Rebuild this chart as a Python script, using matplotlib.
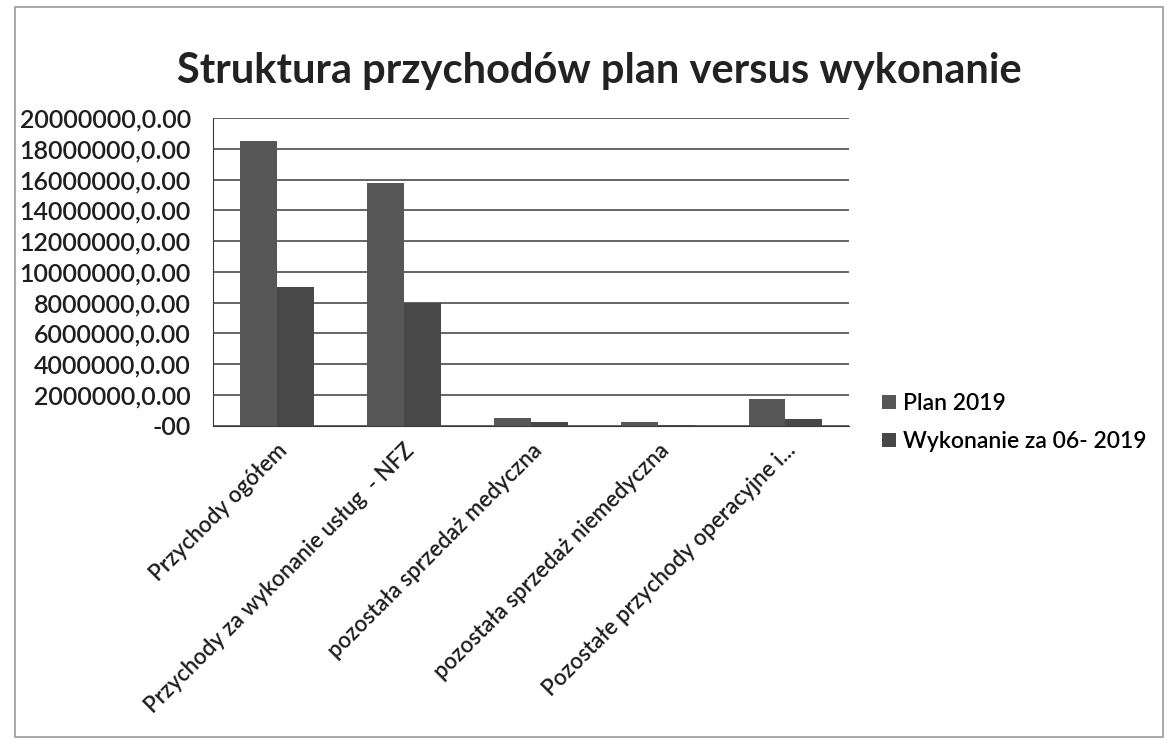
import matplotlib.pyplot as plt
import numpy as np
from matplotlib.patches import Rectangle

categories = [
    'Przychody ogółem',
    'Przychody za wykonanie usług  - NFZ',
    'pozostała sprzedaż medyczna',
    'pozostała sprzedaż niemedyczna',
    'Pozostałe przychody operacyjne i...',
]
plan_2019 = [18550000, 15800000, 480000, 200000, 1750000]
wykonanie_06_2019 = [9000000, 8000000, 260000, 40000, 420000]
y_ticks = [0, 2000000, 4000000, 6000000, 8000000, 10000000,
           12000000, 14000000, 16000000, 18000000, 20000000]
y_tick_labels = ['-00'] + [f'{v},0.00' for v in y_ticks[1:]]

fig = plt.figure(figsize=(11.71, 7.44), dpi=100)
fig.patch.set_facecolor('white')
# thin frame around the whole chart, like the scanned page
fig.patches.append(Rectangle((0.013, 0.01), 0.98, 0.98, transform=fig.transFigure,
                             fill=False, edgecolor='#9a9a9a', linewidth=1.2))

ax = fig.add_axes([0.182, 0.428, 0.543, 0.413])
x = np.arange(len(categories))
w = 0.29
ax.bar(x - w / 2, plan_2019, w, color='#575757', label='Plan 2019', zorder=3)
ax.bar(x + w / 2, wykonanie_06_2019, w, color='#484848', label='Wykonanie za 06- 2019', zorder=3)

ax.set_xlim(-0.5, len(categories) - 0.5)
ax.set_ylim(0, 20000000)
ax.set_yticks(y_ticks)
ax.set_yticklabels(y_tick_labels, fontsize=18, fontweight='semibold', family='Lato', color='#1e1e1e')
ax.yaxis.grid(True, color='#3a3a3a', linewidth=1.1, zorder=0)
ax.tick_params(axis='y', length=0, pad=16)
ax.set_xticks(x)
ax.set_xticklabels(categories, rotation=45, ha='right', rotation_mode='anchor',
                   fontsize=16, fontweight='semibold', family='Lato', color='#1e1e1e')
ax.tick_params(axis='x', length=0, pad=10)
for side in ['top', 'right']:
    ax.spines[side].set_visible(False)
ax.spines['left'].set_color('#3a3a3a')
ax.spines['bottom'].set_color('#3a3a3a')

fig.text(0.512, 0.905, 'Struktura przychodów plan versus wykonanie', ha='center', va='center',
         fontsize=30, fontweight='bold', family='Lato', color='#222222')

ax.legend(loc='center left', bbox_to_anchor=(1.02, 0.01), frameon=False,
          handlelength=0.6, handleheight=0.6, handletextpad=0.3, labelspacing=0.75,
          prop={'family': 'Lato', 'size': 16.5, 'weight': 'semibold'})

fig.savefig('out.png', dpi=100)
